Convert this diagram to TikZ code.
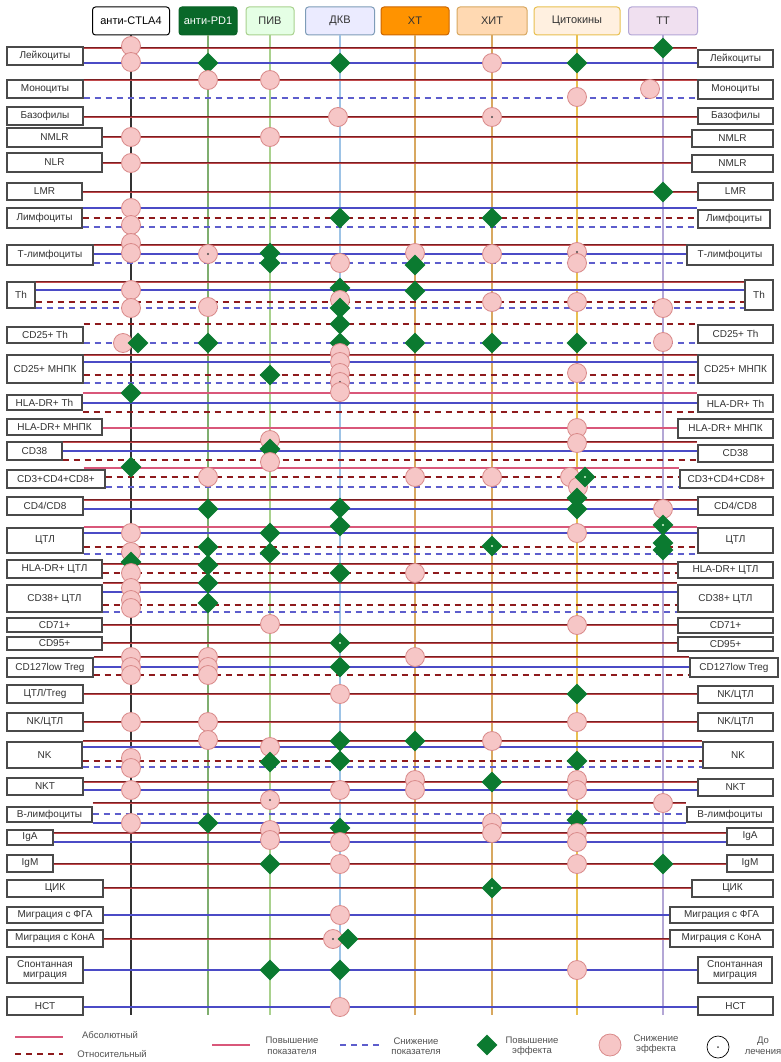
\documentclass[tikz,border=0pt]{standalone}
\usepackage{fontspec}
\setmainfont{Liberation Sans}
\usetikzlibrary{shapes.geometric}
\definecolor{dred}{HTML}{7A1F22}
\definecolor{mred}{HTML}{C04A4C}
\definecolor{pinkl}{HTML}{D9577A}
\definecolor{bluel}{HTML}{4B4BC6}
\definecolor{dgreen}{HTML}{0B7A30}
\definecolor{cfill}{HTML}{F6C6C6}
\definecolor{cdraw}{HTML}{D98A8A}
\definecolor{boxc}{HTML}{4A4A4A}
\definecolor{txt}{HTML}{333333}
\definecolor{vA}{HTML}{333333}
\definecolor{vB}{HTML}{7FAE6F}
\definecolor{vC}{HTML}{A9D18E}
\definecolor{vD}{HTML}{9DC3E6}
\definecolor{vE}{HTML}{D8A860}
\definecolor{vF}{HTML}{D8A860}
\definecolor{vG}{HTML}{E8C050}
\definecolor{vH}{HTML}{B4A7D6}
\newcounter{mk}
\newcommand\mrk[3]{\stepcounter{mk}\node[#1] (mk\arabic{mk}) at (#2,#3) {};}
\newcommand\LB[6]{\node[lab, minimum width={#4-#2}, minimum height={#5-#3}] (#1) at ({(#2+#4)/2},{(#3+#5)/2}) {#6};}
\newcommand\HL[4]{\draw[#1] (#2 |- 0,#4) -- (#3 |- 0,#4);}
\tikzset{
 lab/.style={draw=boxc, line width=1.2pt, fill=white, inner sep=1pt, align=center, font=\fontsize{10}{10}\selectfont, text=txt},
 hdr/.style={rounded corners=3pt, line width=1pt, minimum height=28pt, inner sep=1pt, font=\fontsize{11}{12}\selectfont, text=txt},
 rs/.style={draw=dred, double=mred, double distance=0.9pt, line width=0.7pt},
 ps/.style={draw=pinkl, line width=1.7pt},
 bs/.style={draw=bluel, line width=1.7pt},
 rd/.style={draw=dred!85!red, line width=2pt, dash pattern=on 6pt off 5pt},
 bd/.style={draw=bluel!90!white, line width=2pt, dash pattern=on 6pt off 5pt},
 circ/.style={circle, fill=cfill, draw=cdraw, line width=0.8pt, minimum size=19pt, inner sep=0pt},
 dcirc/.style={circ, path picture={\fill[black!70] (path picture bounding box.center) circle (1.2pt);}},
 dia/.style={diamond, fill=dgreen, minimum size=21pt, inner sep=0pt},
 ddia/.style={dia, path picture={\fill[green!15] (path picture bounding box.center) circle (1.2pt);}},
 vl/.style={line width=1.3pt},
 legt/.style={font=\fontsize{9.5}{10.5}\selectfont, text=txt!85, align=center},
}
\begin{document}
\begin{tikzpicture}[x=1pt,y=-1pt]
\useasboundingbox[fill=white] (0,0) rectangle (780,1062);
% headers
\node[hdr, draw=black, fill=white, minimum width=77pt, text=black] (H1) at (131,21) {анти-CTLA4};
\node[hdr, draw=dgreen!80!black, fill=dgreen!85!black, minimum width=58pt, text=white] (H2) at (208,21) {анти-PD1};
\node[hdr, draw=vC, fill=green!10, minimum width=48pt] (H3) at (270,21) {ПИВ};
\node[hdr, draw=vD!80!black, fill=blue!8, minimum width=69pt] (H4) at (340,21) {ДКВ};
\node[hdr, draw=orange!80!black, fill=orange!85!yellow, minimum width=68pt] (H5) at (415,21) {ХТ};
\node[hdr, draw=vE, fill=orange!30, minimum width=70pt] (H6) at (492,21) {ХИТ};
\node[hdr, draw=vG, fill=orange!12, minimum width=86pt] (H7) at (577,21) {Цитокины};
\node[hdr, draw=vH, fill=violet!12, minimum width=69pt] (H8) at (663,21) {ТТ};
% vertical lines
\draw[vl, vA] (H1.south) -- (H1.south |- 0,1015);
\draw[vl, vB] (H2.south) -- (H2.south |- 0,1015);
\draw[vl, vC] (H3.south) -- (H3.south |- 0,1015);
\draw[vl, vD] (H4.south) -- (H4.south |- 0,1015);
\draw[vl, vE] (H5.south) -- (H5.south |- 0,1015);
\draw[vl, vF] (H6.south) -- (H6.south |- 0,1015);
\draw[vl, vG] (H7.south) -- (H7.south |- 0,1015);
\draw[vl, vH] (H8.south) -- (H8.south |- 0,1015);
% row boxes
\LB{L1}{7}{47}{83}{65}{Лейкоциты} \LB{R1}{698}{50}{773}{67}{Лейкоциты}
\LB{L2}{7}{80}{83}{98}{Моноциты} \LB{R2}{698}{80}{773}{99}{Моноциты}
\LB{L3}{7}{107}{83}{125}{Базофилы} \LB{R3}{698}{108}{773}{124}{Базофилы}
\LB{L4}{7}{128}{102}{147}{NMLR} \LB{R4}{692}{130}{773}{147}{NMLR}
\LB{L5}{7}{153}{102}{172}{NLR} \LB{R5}{692}{155}{773}{172}{NMLR}
\LB{L6}{7}{183}{82}{200}{LMR} \LB{R6}{698}{183}{773}{200}{LMR}
\LB{L7}{7}{208}{82}{228}{Лимфоциты} \LB{R7}{698}{210}{770}{228}{Лимфоциты}
\LB{L8}{7}{245}{93}{265}{Т-лимфоциты} \LB{R8}{687}{245}{773}{265}{Т-лимфоциты}
\LB{L9}{7}{282}{35}{308}{Th} \LB{R9}{745}{280}{773}{310}{Th}
\LB{L10}{7}{327}{83}{343}{CD25+ Th} \LB{R10}{698}{325}{773}{343}{CD25+ Th}
\LB{L11}{7}{355}{83}{383}{CD25+ МНПК} \LB{R11}{698}{355}{773}{383}{CD25+ МНПК}
\LB{L12}{7}{395}{82}{410}{HLA-DR+ Th} \LB{R12}{698}{395}{773}{412}{HLA-DR+ Th}
\LB{L13}{7}{419}{102}{435}{HLA-DR+ МНПК} \LB{R13}{678}{419}{773}{438}{HLA-DR+ МНПК}
\LB{L14}{7}{442}{62}{460}{CD38} \LB{R14}{698}{445}{773}{462}{CD38}
\LB{L15}{7}{470}{105}{488}{CD3+CD4+CD8+} \LB{R15}{680}{470}{773}{488}{CD3+CD4+CD8+}
\LB{L16}{7}{497}{83}{515}{CD4/CD8} \LB{R16}{698}{497}{773}{515}{CD4/CD8}
\LB{L17}{7}{528}{83}{553}{ЦТЛ} \LB{R17}{698}{528}{773}{553}{ЦТЛ}
\LB{L18}{7}{560}{102}{578}{HLA-DR+ ЦТЛ} \LB{R18}{678}{562}{773}{578}{HLA-DR+ ЦТЛ}
\LB{L19}{7}{585}{102}{612}{CD38+ ЦТЛ} \LB{R19}{678}{585}{773}{612}{CD38+ ЦТЛ}
\LB{L20}{7}{618}{102}{632}{CD71+} \LB{R20}{678}{618}{773}{633}{CD71+}
\LB{L21}{7}{637}{102}{650}{CD95+} \LB{R21}{678}{637}{773}{651}{CD95+}
\LB{L22}{7}{658}{93}{677}{CD127low Treg} \LB{R22}{690}{658}{778}{677}{CD127low Treg}
\LB{L23}{7}{685}{83}{703}{ЦТЛ/Treg} \LB{R23}{698}{686}{773}{703}{NK/ЦТЛ}
\LB{L24}{7}{713}{83}{731}{NK/ЦТЛ} \LB{R24}{698}{713}{773}{731}{NK/ЦТЛ}
\LB{L25}{7}{742}{82}{768}{NK} \LB{R25}{703}{742}{773}{768}{NK}
\LB{L26}{7}{778}{83}{795}{NKT} \LB{R26}{698}{779}{773}{796}{NKT}
\LB{L27}{7}{807}{92}{822}{В-лимфоциты} \LB{R27}{687}{807}{773}{822}{В-лимфоциты}
\LB{L28}{7}{830}{53}{845}{IgA} \LB{R28}{727}{828}{773}{845}{IgA}
\LB{L29}{7}{855}{53}{872}{IgM} \LB{R29}{727}{855}{773}{872}{IgM}
\LB{L30}{7}{880}{103}{897}{ЦИК} \LB{R30}{692}{880}{773}{897}{ЦИК}
\LB{L31}{7}{907}{103}{923}{Миграция с ФГА} \LB{R31}{670}{907}{773}{923}{Миграция с ФГА}
\LB{L32}{7}{930}{103}{947}{Миграция с КонА} \LB{R32}{670}{930}{773}{947}{Миграция с КонА}
\LB{L33}{7}{957}{83}{983}{Спонтанная\\миграция} \LB{R33}{698}{957}{772}{983}{Спонтанная\\миграция}
\LB{L34}{7}{997}{83}{1015}{НСТ} \LB{R34}{698}{997}{773}{1015}{НСТ}
% horizontal lines
\HL{rs}{L1.east}{R1.west}{48} \HL{bs}{L1.east}{R1.west}{63}
\HL{rs}{L2.east}{R2.west}{80} \HL{bd}{L2.east}{R2.west}{98}
\HL{rs}{L3.east}{R3.west}{117}
\HL{rs}{L4.east}{R4.west}{137}
\HL{rs}{L5.east}{R5.west}{163}
\HL{rs}{L6.east}{R6.west}{192}
\HL{bs}{L7.east}{R7.west}{208} \HL{rd}{L7.east}{R7.west}{218} \HL{bd}{L7.east}{R7.west}{227}
\HL{rs}{L8.east}{R8.west}{245} \HL{bs}{L8.east}{R8.west}{254} \HL{bd}{L8.east}{R8.west}{263}
\HL{rs}{L9.east}{R9.west}{282} \HL{bs}{L9.east}{R9.west}{290} \HL{rd}{L9.east}{R9.west}{302} \HL{bd}{L9.east}{R9.west}{308}
\HL{rd}{L10.east}{R10.west}{324} \HL{bd}{L10.east}{R10.west}{343}
\HL{rs}{L11.east}{R11.west}{355} \HL{bs}{L11.east}{R11.west}{362} \HL{rd}{L11.east}{R11.west}{375} \HL{bd}{L11.east}{R11.west}{383}
\HL{ps}{L12.east}{R12.west}{393} \HL{bs}{L12.east}{R12.west}{403} \HL{rd}{L12.east}{R12.west}{412}
\HL{ps}{L13.east}{R13.west}{428}
\HL{rs}{L14.east}{R14.west}{442} \HL{bs}{L14.east}{R14.west}{451} \HL{rd}{L14.east}{R14.west}{460}
\HL{ps}{L10.east}{R15.west}{468} \HL{rd}{L15.east}{R15.west}{477} \HL{bd}{L15.east}{R15.west}{487}
\HL{rs}{L16.east}{R16.west}{500} \HL{bs}{L16.east}{R16.west}{509}
\HL{ps}{L17.east}{R17.west}{527} \HL{bs}{L17.east}{R17.west}{533} \HL{rd}{L17.east}{R17.west}{547} \HL{bd}{L17.east}{R17.west}{554}
\HL{rs}{L18.east}{R18.west}{564} \HL{rd}{L18.east}{R18.west}{573}
\HL{rs}{L19.east}{R19.west}{583} \HL{bs}{L19.east}{R19.west}{592} \HL{rd}{L19.east}{R19.west}{605} \HL{bd}{L19.east}{R19.west}{612}
\HL{rs}{L20.east}{R20.west}{625}
\HL{rs}{L21.east}{R21.west}{643}
\HL{rs}{L22.east}{R22.west}{657} \HL{bs}{L22.east}{R22.west}{667} \HL{rd}{L22.east}{R22.west}{675}
\HL{rs}{L23.east}{R23.west}{694}
\HL{rs}{L24.east}{R24.west}{722}
\HL{rs}{L25.east}{R25.west}{741} \HL{bs}{L25.east}{R25.west}{747} \HL{rd}{L25.east}{R25.west}{761} \HL{bd}{L25.east}{R25.west}{767}
\HL{rs}{L26.east}{R26.west}{782} \HL{bs}{L26.east}{R26.west}{790}
\HL{rs}{L27.east}{R27.west}{803} \HL{bd}{L27.east}{R27.west}{814} \HL{bs}{L27.east}{R27.west}{823}
\HL{rs}{L28.east}{R28.west}{833} \HL{bs}{L28.east}{R28.west}{842}
\HL{rs}{L29.east}{R29.west}{864}
\HL{rs}{L30.east}{R30.west}{888}
\HL{bs}{L31.east}{R31.west}{915}
\HL{rs}{L32.east}{R32.west}{939}
\HL{bs}{L33.east}{R33.west}{970}
\HL{bs}{L34.east}{R34.west}{1007}
% markers
\mrk{circ}{131}{46} \mrk{circ}{131}{62} \mrk{dia}{208}{63} \mrk{dia}{340}{63} \mrk{circ}{492}{63} \mrk{dia}{577}{63} \mrk{dia}{663}{48}
\mrk{circ}{208}{80} \mrk{circ}{270}{80} \mrk{circ}{577}{97} \mrk{circ}{650}{89}
\mrk{circ}{338}{117} \mrk{dcirc}{492}{117}
\mrk{circ}{131}{137} \mrk{circ}{270}{137}
\mrk{circ}{131}{163}
\mrk{dia}{663}{192}
\mrk{circ}{131}{208} \mrk{circ}{131}{225} \mrk{dia}{340}{218} \mrk{dia}{492}{218}
\mrk{circ}{131}{243} \mrk{circ}{131}{253} \mrk{dcirc}{208}{254} \mrk{dia}{270}{253} \mrk{dia}{270}{263} \mrk{circ}{340}{263} \mrk{circ}{415}{253} \mrk{dia}{415}{265} \mrk{circ}{492}{254} \mrk{dcirc}{577}{252} \mrk{circ}{577}{263}
\mrk{circ}{131}{290} \mrk{circ}{131}{308} \mrk{circ}{208}{307} \mrk{dia}{340}{288} \mrk{circ}{340}{300} \mrk{dia}{340}{308} \mrk{dia}{415}{291} \mrk{circ}{492}{302} \mrk{circ}{577}{302} \mrk{circ}{663}{308}
\mrk{circ}{123}{343} \mrk{dia}{138}{343} \mrk{dia}{208}{343} \mrk{dia}{340}{324} \mrk{dia}{340}{343} \mrk{dia}{415}{343} \mrk{dia}{492}{343} \mrk{dia}{577}{343} \mrk{circ}{663}{342}
\mrk{dia}{270}{375} \mrk{circ}{340}{353} \mrk{circ}{340}{362} \mrk{dcirc}{340}{373} \mrk{dcirc}{340}{382} \mrk{circ}{340}{392} \mrk{circ}{577}{373}
\mrk{dia}{131}{393}
\mrk{circ}{577}{428}
\mrk{circ}{270}{440} \mrk{dia}{270}{449} \mrk{circ}{270}{462} \mrk{circ}{577}{443}
\mrk{dia}{131}{467} \mrk{circ}{208}{477} \mrk{circ}{415}{477} \mrk{circ}{492}{477} \mrk{circ}{570}{477} \mrk{circ}{578}{487} \mrk{ddia}{585}{477}
\mrk{dia}{208}{509} \mrk{dia}{340}{508} \mrk{dia}{577}{498} \mrk{dia}{577}{509} \mrk{circ}{663}{509}
\mrk{circ}{131}{533} \mrk{circ}{131}{552} \mrk{dia}{208}{547} \mrk{dia}{270}{533} \mrk{dia}{270}{553} \mrk{dia}{340}{526} \mrk{ddia}{492}{546} \mrk{circ}{577}{533} \mrk{ddia}{663}{525} \mrk{ddia}{663}{543} \mrk{dia}{663}{550}
\mrk{dia}{131}{562} \mrk{circ}{131}{573} \mrk{dia}{208}{565} \mrk{dia}{340}{573} \mrk{circ}{415}{573}
\mrk{circ}{131}{588} \mrk{circ}{131}{600} \mrk{circ}{131}{608} \mrk{dia}{208}{583} \mrk{dia}{208}{603}
\mrk{circ}{270}{624} \mrk{circ}{577}{625}
\mrk{ddia}{340}{643}
\mrk{circ}{131}{657} \mrk{circ}{131}{667} \mrk{circ}{131}{675} \mrk{circ}{208}{657} \mrk{circ}{208}{667} \mrk{circ}{208}{675} \mrk{dia}{340}{667} \mrk{circ}{415}{657}
\mrk{circ}{340}{694} \mrk{dia}{577}{694}
\mrk{circ}{131}{722} \mrk{circ}{208}{722} \mrk{circ}{577}{722}
\mrk{circ}{131}{758} \mrk{circ}{131}{768} \mrk{circ}{208}{740} \mrk{circ}{270}{747} \mrk{dia}{270}{762} \mrk{dia}{340}{741} \mrk{dia}{340}{761} \mrk{dia}{415}{741} \mrk{circ}{492}{741} \mrk{dia}{577}{761}
\mrk{circ}{131}{790} \mrk{circ}{340}{790} \mrk{circ}{415}{780} \mrk{circ}{415}{790} \mrk{dia}{492}{782} \mrk{circ}{577}{780} \mrk{circ}{577}{790}
\mrk{circ}{131}{823} \mrk{dia}{208}{823} \mrk{dcirc}{270}{800} \mrk{circ}{663}{803}
\mrk{circ}{270}{830} \mrk{circ}{270}{840} \mrk{dia}{340}{828} \mrk{circ}{340}{842} \mrk{circ}{492}{823} \mrk{circ}{492}{833} \mrk{dia}{577}{820} \mrk{circ}{577}{833} \mrk{circ}{577}{842}
\mrk{dia}{270}{864} \mrk{circ}{340}{864} \mrk{circ}{577}{864} \mrk{dia}{663}{864}
\mrk{ddia}{492}{888}
\mrk{circ}{340}{915}
\mrk{dcirc}{333}{939} \mrk{dia}{348}{939}
\mrk{dia}{270}{970} \mrk{dia}{340}{970} \mrk{circ}{577}{970}
\mrk{circ}{340}{1007}
% legend
\coordinate (la1) at (15,1037); \coordinate (la2) at (63,1037);
\draw[ps] (la1) -- (la2);
\node[legt] (lt1) at (110,1035) {Абсолютный};
\coordinate (lb1) at (15,1054); \coordinate (lb2) at (63,1054);
\draw[rd] (lb1) -- (lb2);
\node[legt] (lt2) at (112,1054) {Относительный};
\coordinate (lc1) at (212,1045); \coordinate (lc2) at (250,1045);
\draw[ps] (lc1) -- (lc2);
\node[legt] (lt3) at (292,1046) {Повышение\\показателя};
\coordinate (ld1) at (340,1045); \coordinate (ld2) at (383,1045);
\draw[bd] (ld1) -- (ld2);
\node[legt] (lt4) at (416,1046) {Снижение\\показателя};
\node[dia] (lg1) at (487,1045) {};
\node[legt] (lt5) at (532,1046) {Повышение\\эффекта};
\node[circ, minimum size=22pt] (lg2) at (610,1045) {};
\node[legt] (lt6) at (656,1044) {Снижение\\эффекта};
\node[circle, draw=black, line width=0.7pt, fill=white, minimum size=22pt, inner sep=0pt, path picture={\fill[black!70] (path picture bounding box.center) circle (1pt);}] (lg3) at (718,1047) {};
\node[legt] (lt7) at (763,1046) {До\\лечения};
\end{tikzpicture}
\end{document}
